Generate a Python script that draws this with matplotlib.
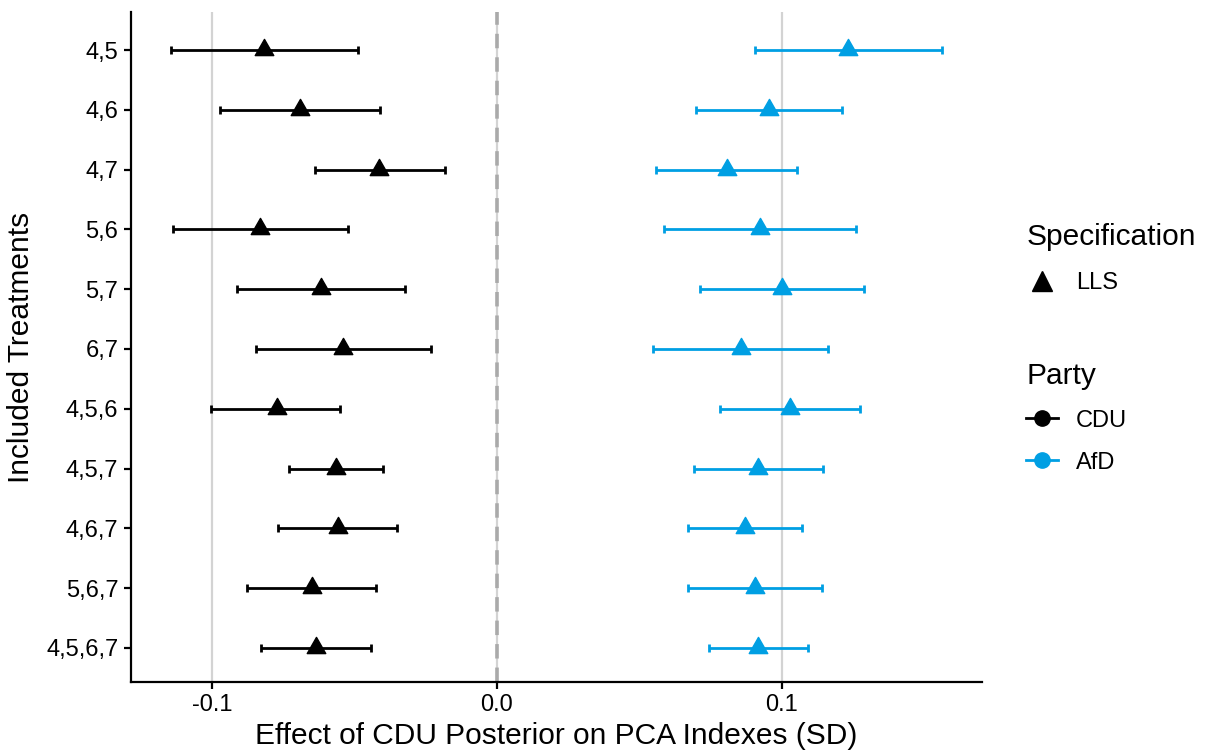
import numpy as np
import matplotlib
matplotlib.use('Agg')
import matplotlib.pyplot as plt
from matplotlib.path import Path
from matplotlib.lines import Line2D

plt.rcParams.update({'font.family': ['Liberation Sans', 'DejaVu Sans'], 'font.size': 12})

# Datos
treatments = ['4,5', '4,6', '4,7', '5,6', '5,7', '6,7', '4,5,6', '4,5,7', '4,6,7', '5,6,7', '4,5,6,7']

cdu_est = [-0.0818, -0.0691, -0.0414, -0.0832, -0.0618, -0.0540, -0.0772, -0.0565, -0.0558, -0.0649, -0.0635]
cdu_lo  = [-0.1144, -0.0972, -0.0639, -0.1137, -0.0912, -0.0846, -0.1004, -0.0730, -0.0768, -0.0877, -0.0828]
cdu_hi  = [-0.0488, -0.0411, -0.0182, -0.0523, -0.0323, -0.0232, -0.0551, -0.0400, -0.0351, -0.0425, -0.0442]

afd_est = [0.1232, 0.0954, 0.0807, 0.0923, 0.1000, 0.0856, 0.1028, 0.0916, 0.0870, 0.0905, 0.0916]
afd_lo  = [0.0905, 0.0698, 0.0558, 0.0586, 0.0712, 0.0547, 0.0782, 0.0691, 0.0670, 0.0670, 0.0744]
afd_hi  = [0.1561, 0.1211, 0.1053, 0.1260, 0.1288, 0.1161, 0.1274, 0.1144, 0.1070, 0.1140, 0.1091]

COLOR_CDU, COLOR_AFD = '#000000', '#009FE3'

# triángulo con la base cerca del centro (como shape 17 de ggplot)
tri = Path([(-1.0, -0.55), (1.0, -0.55), (0.0, 1.2), (-1.0, -0.55)],
           [Path.MOVETO, Path.LINETO, Path.LINETO, Path.CLOSEPOLY])

fig = plt.figure(figsize=(12.06, 7.54), dpi=100)
ax = fig.add_axes([0.1086, 0.0955, 0.7057, 0.8885])

y = np.arange(len(treatments))
for est, lo, hi, col in [(cdu_est, cdu_lo, cdu_hi, COLOR_CDU), (afd_est, afd_lo, afd_hi, COLOR_AFD)]:
    est = np.array(est); lo = np.array(lo); hi = np.array(hi)
    ax.errorbar(est, y, xerr=[est - lo, hi - est], fmt='none', ecolor=col,
                elinewidth=2.0, capsize=3, capthick=2.0, zorder=3)
    ax.plot(est, y, linestyle='none', marker=tri, markersize=16, color=col, zorder=4)

for gx in [-0.1, 0.0, 0.1]:
    ax.axvline(gx, color='#D3D3D3', linewidth=1.6, zorder=1)
ax.axvline(0, color='#AAAAAA', linewidth=2.6, linestyle=(0, (4, 2.5)), zorder=2)

ax.set_xlim(-0.1284, 0.1702)
ax.set_ylim(len(treatments) - 0.43, -0.635)
ax.set_yticks(y)
ax.set_yticklabels(treatments)
ax.set_xticks([-0.1, 0.0, 0.1])
ax.set_xticklabels(['-0.1', '0.0', '0.1'])
ax.tick_params(labelsize=17, colors='black', width=1.6, length=5, pad=4)
for s in ['top', 'right']:
    ax.spines[s].set_visible(False)
for s in ['left', 'bottom']:
    ax.spines[s].set_linewidth(1.6)
ax.set_xlabel('Effect of CDU Posterior on PCA Indexes (SD)', fontsize=21.5, labelpad=4)
ax.set_ylabel('Included Treatments', fontsize=21.5, labelpad=8)

# leyendas
h_spec = [Line2D([], [], linestyle='none', marker='^', markersize=15, color='black')]
leg1 = fig.legend(h_spec, ['LLS'], title='Specification', loc='upper left',
                  bbox_to_anchor=(0.843, 0.717), frameon=False, fontsize=17,
                  title_fontsize=21.5, handlelength=1.35, handletextpad=0.75,
                  labelspacing=0.9, borderaxespad=0)
leg1._legend_box.align = 'left'
h_party = [Line2D([], [], color=COLOR_CDU, marker='o', markersize=11, linewidth=2.0),
           Line2D([], [], color=COLOR_AFD, marker='o', markersize=11, linewidth=2.0)]
leg2 = fig.legend(h_party, ['CDU', 'AfD'], title='Party', loc='upper left',
                  bbox_to_anchor=(0.843, 0.533), frameon=False, fontsize=17,
                  title_fontsize=21.5, handlelength=1.35, handletextpad=0.75,
                  labelspacing=0.85, borderaxespad=0)
leg2._legend_box.align = 'left'

fig.savefig('out.png', dpi=100, facecolor='white')
